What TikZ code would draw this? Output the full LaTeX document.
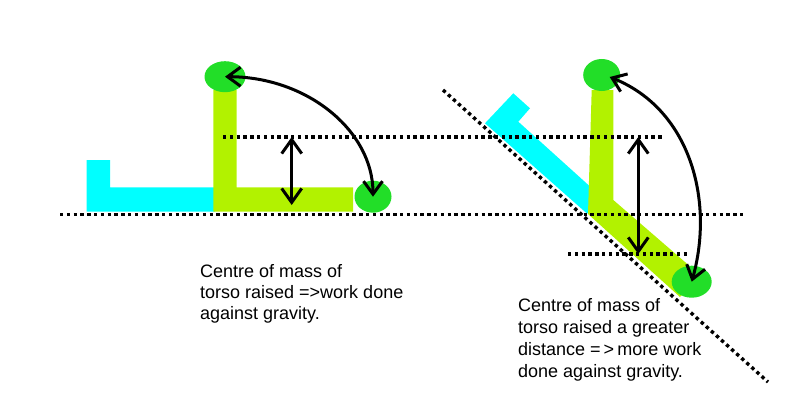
\documentclass[tikz,border=0pt]{standalone}
\usepackage{fontspec}
\setmainfont{Liberation Sans}
\usetikzlibrary{arrows.meta,shapes.geometric}
\definecolor{legcol}{RGB}{0,255,255}
\definecolor{torsocol}{RGB}{178,242,0}
\definecolor{masscol}{RGB}{34,222,40}

\begin{document}
\begin{tikzpicture}[x=1pt,y=-1pt,
  dots/.style={line width=3.4pt,dash pattern=on 3.4pt off 3.4pt},
  lift/.style={line width=3pt,{Straight Barb[length=14pt,width=20pt]}-{Straight Barb[length=14pt,width=20pt]}},
  swing/.style={line width=3pt,{Straight Barb[length=13pt,width=19pt]}-{Straight Barb[length=13pt,width=19pt]}},
  mass/.style={ellipse,fill=masscol,inner sep=0pt,minimum width=41pt,minimum height=31pt},
  note/.style={align=left,inner sep=0pt,anchor=north west}]
\useasboundingbox (0,0) rectangle (800,412);

% lying flat
\fill[legcol] (86.7,160) -- (110,160) -- (110,187.3) -- (215,187.3) -- (215,211.7) -- (86.7,211.7) -- cycle;
\fill[torsocol] (213.3,90) -- (236.7,90) -- (236.7,187.3) -- (353,187.3) -- (353,211.7) -- (213.3,211.7) -- cycle;
\node[mass] (topa) at (225,76.7) {};
\node[mass,minimum width=37pt,minimum height=32pt] (enda) at (373,196.7) {};

% on the slope
\fill[legcol] (485,123.3) -- (513.3,93.3) -- (530,108.3) -- (518.3,121.7) -- (591.7,188) -- (591.7,213.3) -- (586.7,213.3) -- cycle;
\fill[torsocol] (591.7,90) -- (613.3,90) -- (613.3,200) -- (700,275) -- (680,297) -- (588,214) -- cycle;
\node[mass,minimum width=37pt,minimum height=32pt] (topb) at (601.7,75) {};
\node[mass,minimum width=40pt,minimum height=32pt] (endb) at (691.7,281.7) {};

% dotted levels
\coordinate (hiL) at (223,137);
\coordinate (hiR) at (663,137);
\coordinate (loL) at (60,214.5);
\coordinate (loR) at (745,214.5);
\coordinate (lowL) at (568,254);
\coordinate (lowR) at (690,254);
\coordinate (slopeT) at (443,90);
\coordinate (slopeB) at (768,382);
\draw[dots] (hiL) -- (hiR);
\draw[dots] (loL) -- (loR);
\draw[dots] (lowL) -- (lowR);
\draw[dots] (slopeT) -- (slopeB);

% heights raised
\coordinate (riseA) at (291.7,205);
\coordinate (riseB) at (638.3,137);
\draw[lift] (riseA |- hiL) -- (riseA);
\draw[lift] (riseB) -- (riseB |- lowL);

% torso swing
\draw[swing] (topa.center) .. controls +(82,0) and +(0,-66) .. (enda.center);
\draw[swing] ([xshift=8pt,yshift=-2pt]topb.center) .. controls +(80,32) and +(23,-82) .. (endb.center);

\node[note,font=\fontsize{18}{21}\selectfont] (capa) at (200,264.2) {Centre of mass of\\torso raised =>work done\\against gravity.};
\node[note,font=\fontsize{18}{22}\selectfont] (capb) at (518,298.5) {Centre of mass of\\torso raised a greater\\distance =\,>\,more work\\done against gravity.};
\end{tikzpicture}
\end{document}
